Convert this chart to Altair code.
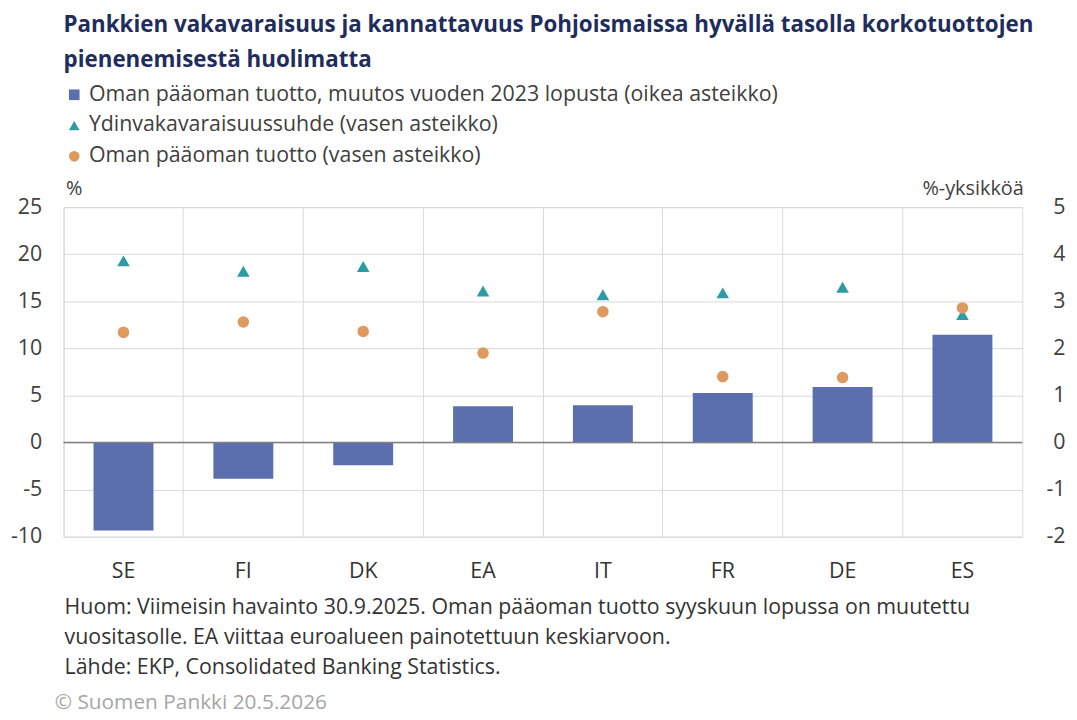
import altair as alt
import pandas as pd

categories = ["SE", "FI", "DK", "EA", "IT", "FR", "DE", "ES"]
roe_change = [-1.87, -0.77, -0.48, 0.77, 0.79, 1.05, 1.18, 2.29]
cet1_ratio = [19.3, 18.2, 18.7, 16.1, 15.7, 15.9, 16.5, 13.6]
roe_level = [11.7, 12.8, 11.8, 9.5, 13.9, 7.0, 6.9, 14.3]

s_bar = "Oman pääoman tuotto, muutos vuoden 2023 lopusta (oikea asteikko)"
s_tri = "Ydinvakavaraisuussuhde (vasen asteikko)"
s_dot = "Oman pääoman tuotto (vasen asteikko)"
series = [s_bar, s_tri, s_dot]
colors = ["#5B6EAD", "#2E9BA4", "#DE9A5E"]
shapes = ["square", "triangle-up", "circle"]

title_lines = ["Pankkien vakavaraisuus ja kannattavuus  Pohjoismaissa hyvällä tasolla korkotuottojen",
               "pienenemisestä huolimatta"]
note_text = ("Huom: Viimeisin havainto 30.9.2025. Oman pääoman tuotto syyskuun lopussa on muutettu\n"
             "vuositasolle. EA viittaa euroalueen painotettuun keskiarvoon.\n"
             "Lähde: EKP, Consolidated Banking Statistics.")
copyright_text = "© Suomen Pankki 20.5.2026"

FONT = "Open Sans"

bar_df = pd.DataFrame({"maa": categories, "arvo": roe_change, "sarja": s_bar})
tri_df = pd.DataFrame({"maa": categories, "arvo": cet1_ratio, "sarja": s_tri})
dot_df = pd.DataFrame({"maa": categories, "arvo": roe_level, "sarja": s_dot})

x_enc = alt.X("maa:N", sort=categories, title=None,
              scale=alt.Scale(paddingInner=0, paddingOuter=0),
              axis=alt.Axis(labelAngle=0, labelFontSize=21.5, labelColor="#333333", labelFont=FONT,
                            labelPadding=24, ticks=False, domain=False, grid=True,
                            gridColor="#d9d9d9", bandPosition=0))

color_enc = alt.Color("sarja:N", scale=alt.Scale(domain=series, range=colors),
                      legend=alt.Legend(title=None, orient="none", legendX=0, legendY=-124,
                                        direction="vertical", labelFontSize=21.5, labelFont=FONT,
                                        labelColor="#404040", symbolSize=115, rowPadding=8,
                                        labelOffset=4, symbolStrokeWidth=0, labelLimit=900))
shape_enc = alt.Shape("sarja:N", scale=alt.Scale(domain=series, range=shapes), legend=alt.Legend(title=None))

bars = alt.Chart(bar_df).mark_bar(width=alt.RelativeBandSize(0.5)).encode(
    x=x_enc,
    y=alt.Y("arvo:Q", scale=alt.Scale(domain=[-2, 5], nice=False),
            axis=alt.Axis(orient="right", values=list(range(-2, 6)), grid=False, ticks=False, domain=False,
                          labelExpr="'' + datum.value",
                          labelFontSize=21.5, labelFont=FONT, labelColor="#404040", labelAlign="right",
                          labelPadding=43, title="%-yksikköä", titleAngle=0, titleAlign="right",
                          titleBaseline="middle", titleX=1, titleY=-19, titleFontSize=20,
                          titleFont=FONT, titleFontWeight="normal", titleColor="#404040")),
    color=color_enc,
)

left_y = alt.Y("arvo:Q", scale=alt.Scale(domain=[-10, 25], nice=False),
               axis=alt.Axis(orient="left", values=list(range(-10, 30, 5)), grid=True, gridColor="#d9d9d9",
                             labelExpr="'' + datum.value",
                             ticks=False, domain=False, labelFontSize=21.5, labelFont=FONT,
                             labelColor="#404040", labelPadding=22, title="%", titleAngle=0,
                             titleAlign="left", titleBaseline="middle", titleX=2, titleY=-19,
                             titleFontSize=20, titleFont=FONT, titleFontWeight="normal",
                             titleColor="#404040"))

zero = alt.Chart(pd.DataFrame({"z": [0]})).mark_rule(color="#7f7f7f", strokeWidth=1.5).encode(
    y=alt.Y("z:Q"))

tri = alt.Chart(tri_df).mark_point(filled=True, size=160, opacity=1).encode(
    x=x_enc, y=left_y, color=color_enc, shape=shape_enc)
dot = alt.Chart(dot_df).mark_point(filled=True, size=135, opacity=1).encode(
    x=x_enc, y=left_y, color=color_enc, shape=shape_enc)

left = alt.layer(tri, dot, zero)

notes = alt.Chart(pd.DataFrame({"t": [note_text]})).mark_text(
    align="left", baseline="middle", fontSize=21.5, font=FONT, color="#333333", lineBreak="\n",
    lineHeight=30).encode(x=alt.value(1), y=alt.value(404), text="t:N")
copy = alt.Chart(pd.DataFrame({"t": [copyright_text]})).mark_text(
    align="left", baseline="middle", fontSize=21, font=FONT, color="#a6a6a6").encode(
    x=alt.value(-9), y=alt.value(500), text="t:N")

chart = alt.layer(bars, left, notes, copy).resolve_scale(y="independent").properties(
    width=966, height=332,
    autosize=alt.AutoSizeParams(type="none"),
    padding={"left": 56, "top": 198, "right": 47, "bottom": 180},
    title=alt.TitleParams(title_lines, anchor="start", frame="group", fontSize=22.5, fontWeight="bold",
                          font=FONT, color="#1F2D5C", lineHeight=35, offset=13),
).configure_view(stroke="#d9d9d9").configure(background="white")

chart.save("out.html", embed_options={"renderer": "svg", "actions": False})
